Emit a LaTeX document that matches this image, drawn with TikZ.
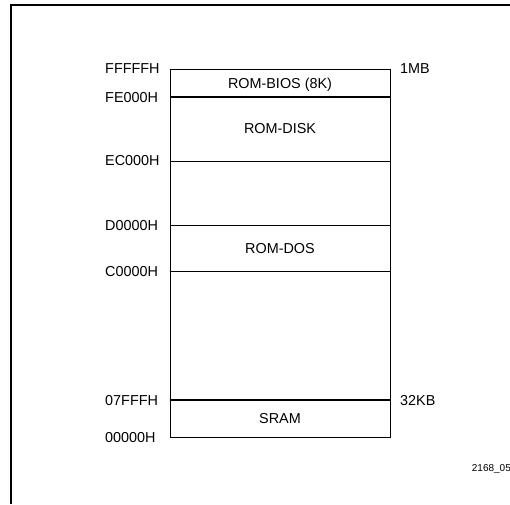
\documentclass[tikz,border=0pt]{standalone}
\usepackage{fontspec}
\setmainfont{Liberation Sans}
\newcommand{\lbl}{\fontsize{14.4}{16}\selectfont}

\begin{document}
\begin{tikzpicture}[x=1pt,y=-1pt,
		addr/.style={anchor=west,inner sep=0pt,text height=10.3pt,text depth=0pt,font=\lbl},
		region/.style={inner sep=0pt,text height=10.3pt,text depth=0pt,font=\lbl}]
			\useasboundingbox (0,0) rectangle (510,504);
			% frame
			\draw[line width=2pt] (510,5) -- (11,5) -- (11,504);
			% memory box
			\draw[line width=0.9pt] (170,69) rectangle (390,437);
			\draw[line width=1.8pt] (170,97) -- (390,97);
			\draw[line width=0.9pt] (170,161) -- (390,161);
			\draw[line width=0.9pt] (170,225) -- (390,225);
			\draw[line width=0.9pt] (170,271) -- (390,271);
			\draw[line width=1.8pt] (170,400) -- (390,400);
			% addresses
			\node[addr] (fffff) at (105,68.8) {FFFFFH};
			\node[addr] (fe000) at (105,97.2) {FE000H};
			\node[addr] (ec000) at (105,160.7) {EC000H};
			\node[addr] (d0000) at (105,225) {D0000H};
			\node[addr] (c0000) at (105,271) {C0000H};
			\node[addr] (07fff) at (105,400.5) {07FFFH};
			\node[addr] (00000) at (105,437.5) {00000H};
			% sizes
			\node[addr] (onemb) at (400,68.8) {1MB};
			\node[addr] (kb32) at (400,400.5) {32KB};
			% regions
			\node[region] (bios) at (280,83) {ROM-BIOS (8K)};
			\node[region] (disk) at (280,128.7) {ROM-DISK};
			\node[region] (dos) at (280,248) {ROM-DOS};
			\node[region] (sram) at (280,418) {SRAM};
			\node[anchor=west,inner sep=0pt,text height=7.2pt,text depth=0pt,font=\fontsize{10}{12}\selectfont] (fig) at (471.7,468.3) {2168\_05};
		\end{tikzpicture}
\end{document}
